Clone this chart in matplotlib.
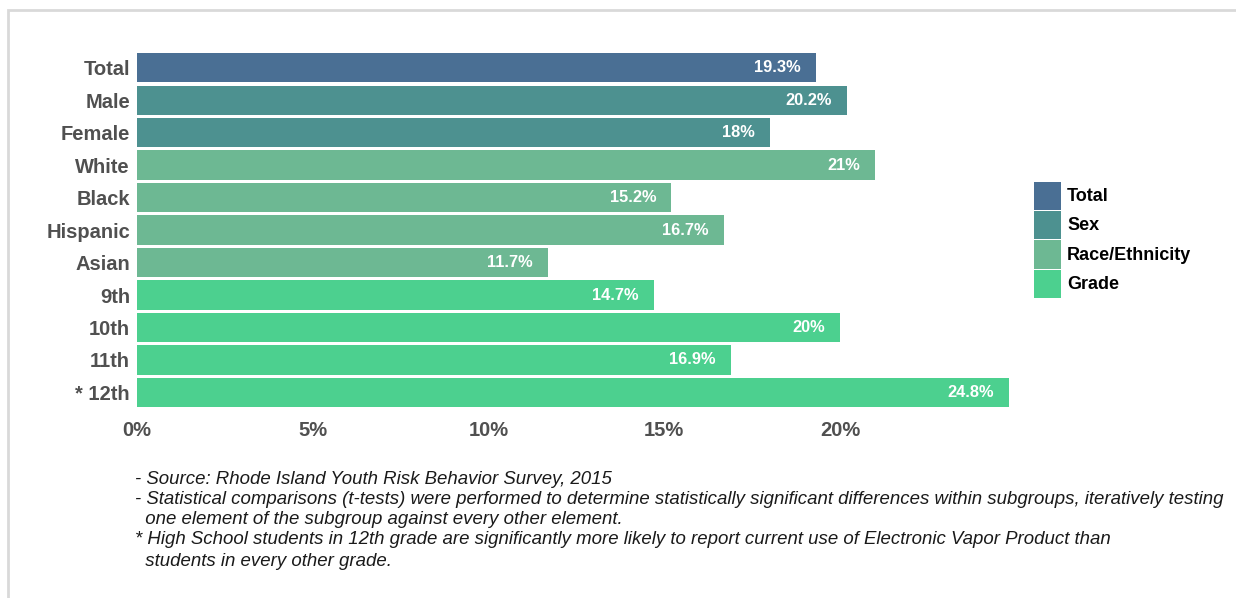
import matplotlib.pyplot as plt
from matplotlib.patches import Rectangle
import numpy as np

# Current Electronic Vapor Product use, RI YRBS 2015
categories = ['Total', 'Male', 'Female', 'White', 'Black', 'Hispanic', 'Asian',
              '9th', '10th', '11th', '* 12th']
values = [19.3, 20.2, 18.0, 21.0, 15.2, 16.7, 11.7, 14.7, 20.0, 16.9, 24.8]
value_labels = ['19.3%', '20.2%', '18%', '21%', '15.2%', '16.7%', '11.7%',
                '14.7%', '20%', '16.9%', '24.8%']
groups = ['Total', 'Sex', 'Sex', 'Race/Ethnicity', 'Race/Ethnicity',
          'Race/Ethnicity', 'Race/Ethnicity', 'Grade', 'Grade', 'Grade', 'Grade']
group_names = ['Total', 'Sex', 'Race/Ethnicity', 'Grade']
x_ticks = [0, 5, 10, 15, 20]
x_tick_labels = ['0%', '5%', '10%', '15%', '20%']

notes = [
    '- Source: Rhode Island Youth Risk Behavior Survey, 2015',
    '- Statistical comparisons (t-tests) were performed to determine statistically significant differences within subgroups, iteratively testing',
    '  one element of the subgroup against every other element.',
    '* High School students in 12th grade are significantly more likely to report current use of Electronic Vapor Product than',
    '  students in every other grade.',
]

group_colors = {
    'Total': '#4a6f94',
    'Sex': '#4d9190',
    'Race/Ethnicity': '#6db893',
    'Grade': '#4cd08f',
}

W, H = 1236, 598


def create_chart():
    """Horizontal bar chart of vaping rates by subgroup"""
    plt.rcParams['font.family'] = ['Liberation Sans', 'DejaVu Sans']

    fig = plt.figure(figsize=(W / 100, H / 100), dpi=100)

    # Light grey frame around the panel
    fig.patches.append(Rectangle((8 / W, -0.05), 1.2, 588 / H + 0.05,
                                 transform=fig.transFigure, fill=False,
                                 edgecolor='#d9d9d9', linewidth=2))

    ax = fig.add_axes([0.1108, 0.3166, 0.7112, 0.5974])

    y = np.arange(len(categories))
    colors = [group_colors[g] for g in groups]
    ax.barh(y, values, height=0.9, color=colors)

    # Value labels inside the bar ends
    for yi, v, lab in zip(y, values, value_labels):
        ax.annotate(lab, xy=(v, yi), xytext=(-11, 0), textcoords='offset points',
                    ha='right', va='center', color='white', fontsize=11.8,
                    fontweight='bold')

    ax.set_ylim(len(categories) - 0.5, -0.5)
    ax.set_xlim(0, 25)
    ax.set_yticks(y)
    ax.set_yticklabels(categories, fontsize=14.5, fontweight='bold', color='#505050')
    ax.set_xticks(x_ticks)
    ax.set_xticklabels(x_tick_labels, fontsize=14.5, fontweight='bold', color='#505050')
    ax.tick_params(axis='both', length=0)
    ax.tick_params(axis='y', pad=5)
    ax.tick_params(axis='x', pad=9)
    for spine in ax.spines.values():
        spine.set_visible(False)

    # Group legend: stacked colour swatches with bold labels
    row_h = 29.2
    top = 182
    for i, g in enumerate(group_names):
        y0 = top + i * row_h
        fig.patches.append(Rectangle((1034 / W, 1 - (y0 + row_h - 1) / H),
                                     27 / W, (row_h - 1) / H,
                                     transform=fig.transFigure,
                                     facecolor=group_colors[g], edgecolor='none'))
        fig.text(1067 / W, 1 - (y0 + row_h / 2) / H, g, ha='left', va='center',
                 fontsize=13, fontweight='bold', color='black')

    # Footnotes
    line_y = [479, 499, 519, 540, 561]
    for txt, ly in zip(notes, line_y):
        fig.text(135 / W, 1 - ly / H, txt, ha='left', va='center',
                 fontsize=13.45, fontstyle='italic', color='#1a1a1a')

    fig.savefig('out.png', dpi=100)


if __name__ == "__main__":
    create_chart()
